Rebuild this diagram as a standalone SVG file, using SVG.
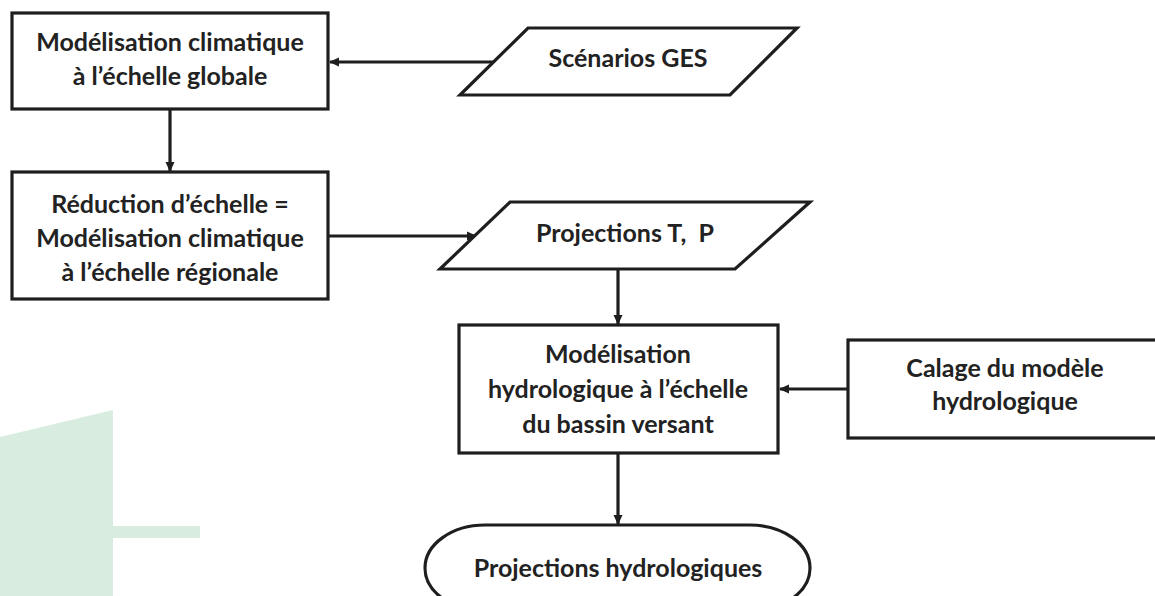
<svg xmlns="http://www.w3.org/2000/svg" width="1155" height="596" viewBox="0 0 1155 596">
<style>
.shape{fill:#fff;stroke:#1e1e1e;stroke-width:3.2}
.t{font-family:Lato,"Open Sans","Liberation Sans",sans-serif;font-weight:bold;font-size:25px;fill:#222;text-anchor:middle}
.c{stroke:#1e1e1e;stroke-width:3.2;fill:none}
</style>
<defs>
<marker id="ah" markerWidth="10" markerHeight="10" refX="9" refY="5" orient="auto" markerUnits="userSpaceOnUse">
<path d="M0,0.5 L10,5 L0,9.5 Z" fill="#1e1e1e"/>
</marker>
</defs>
<rect width="1155" height="596" fill="#fff"/>
<g id="decor">
<polygon points="0,437 113,410 113,596 0,596" fill="#d8ede0"/>
<rect x="113" y="526" width="87" height="12" fill="#d8ede0"/>
</g>
<g id="connectors">
<line class="c" x1="494" y1="62" x2="330" y2="62" marker-end="url(#ah)"/>
<line class="c" x1="170" y1="109" x2="170" y2="171" marker-end="url(#ah)"/>
<line class="c" x1="328" y1="236" x2="476" y2="236" marker-end="url(#ah)"/>
<line class="c" x1="618" y1="269" x2="618" y2="324" marker-end="url(#ah)"/>
<line class="c" x1="848" y1="389" x2="780" y2="389" marker-end="url(#ah)"/>
<line class="c" x1="618" y1="453" x2="618" y2="524" marker-end="url(#ah)"/>
</g>
<g id="n1">
<rect class="shape" x="12" y="13" width="316" height="96"/>
<text class="t" x="170" y="51">Modélisation climatique</text>
<text class="t" x="170" y="85">à l’échelle globale</text>
</g>
<g id="n2">
<rect class="shape" x="12" y="172" width="316" height="127"/>
<text class="t" x="170" y="213">Réduction d’échelle =</text>
<text class="t" x="170" y="247">Modélisation climatique</text>
<text class="t" x="170" y="281">à l’échelle régionale</text>
</g>
<g id="n3">
<polygon class="shape" points="528,28 797,28 730,95 460,95"/>
<text class="t" x="628" y="67">Scénarios GES</text>
</g>
<g id="n4">
<polygon class="shape" points="510,202 810,202 735,269 440,269"/>
<text class="t" x="625" y="242" xml:space="preserve">Projections T,  P</text>
</g>
<g id="n5">
<rect class="shape" x="459" y="325" width="319" height="128"/>
<text class="t" x="618" y="363">Modélisation</text>
<text class="t" x="618" y="398">hydrologique à l’échelle</text>
<text class="t" x="618" y="433">du bassin versant</text>
</g>
<g id="n6">
<rect class="shape" x="848" y="340" width="320" height="98"/>
<text class="t" x="1005" y="377">Calage du modèle</text>
<text class="t" x="1005" y="410">hydrologique</text>
</g>
<g id="n7">
<rect class="shape" x="425" y="525" width="385" height="86" rx="60" ry="43"/>
<text class="t" x="618" y="577">Projections hydrologiques</text>
</g>
</svg>
